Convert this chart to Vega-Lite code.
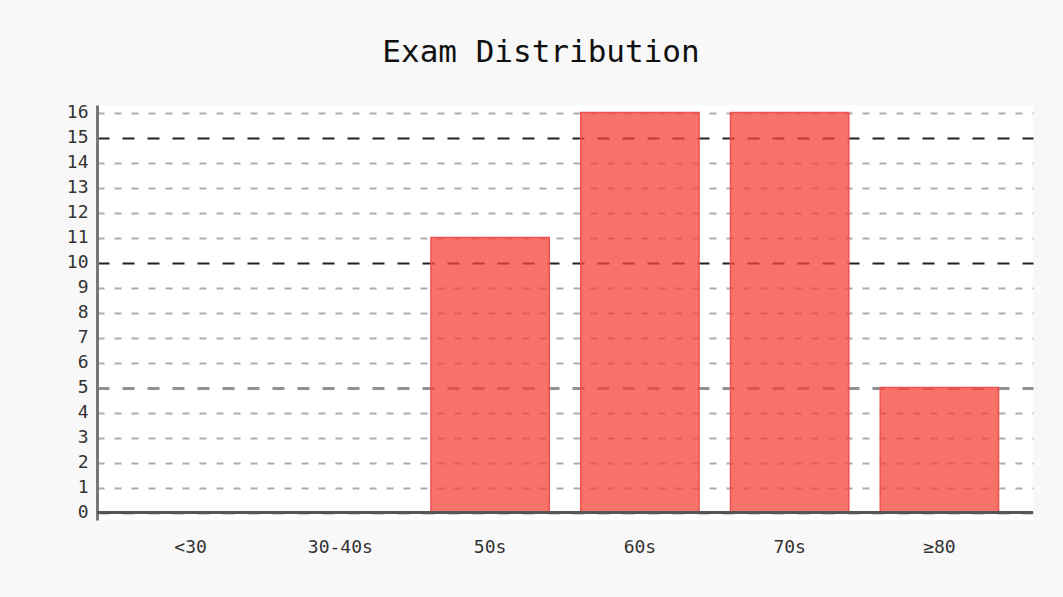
{
  "$schema": "https://vega.github.io/schema/vega-lite/v6.json",
  "width": 936,
  "height": 415,
  "autosize": "none",
  "padding": {"left": 97, "top": 105, "right": 30, "bottom": 77},
  "background": "#f8f8f8",
  "config": {"view": {"fill": "white", "stroke": null}, "font": "DejaVu Sans Mono"},
  "title": {"text": "Exam Distribution", "fontSize": 31, "fontWeight": "normal", "color": "#111", "font": "DejaVu Sans Mono", "offset": 35, "dx": -24},
  "data": {"values": [
    {"range": "<30", "count": 0},
    {"range": "30-40s", "count": 0},
    {"range": "50s", "count": 11},
    {"range": "60s", "count": 16},
    {"range": "70s", "count": 16},
    {"range": "≥80", "count": 5}
  ]},
  "layer": [
    {
      "mark": {"type": "bar", "fill": "#f44336", "fillOpacity": 0.75, "stroke": "#ef5350", "strokeWidth": 1.5},
      "encoding": {
        "x": {"field": "range", "type": "nominal", "sort": null,
          "scale": {"paddingInner": 0.21, "paddingOuter": 0.23},
          "axis": {"title": null, "domain": false, "ticks": false, "grid": false, "labelAngle": 0, "labelPadding": 18, "labelFontSize": 18, "labelColor": "#333", "labelFont": "DejaVu Sans Mono"}},
        "y": {"field": "count", "type": "quantitative",
          "scale": {"domain": [-0.3, 16.3], "nice": false},
          "axis": {"title": null, "values": [0,1,2,3,4,5,6,7,8,9,10,11,12,13,14,15,16], "tickCount": 17,
            "labelOverlap": false, "labelBound": false,
            "domainColor": "#777", "domainWidth": 3, "ticks": false, "labelPadding": 9,
            "labelFontSize": 18, "labelColor": "#333", "labelFont": "DejaVu Sans Mono",
            "grid": true,
            "gridColor": {"condition": [{"test": "datum.value === 5", "value": "#919191"}, {"test": "datum.value % 5 === 0 && datum.value > 0", "value": "#222"}], "value": "#adadad"},
            "gridDash": {"condition": {"test": "datum.value % 5 === 0", "value": [12, 13]}, "value": [7, 10]},
            "gridWidth": {"condition": {"test": "datum.value === 5", "value": 3}, "value": 2},
            "gridOpacity": 1}},
        "y2": {"datum": 0}
      }
    },
    {
      "mark": {"type": "rule", "color": "#555", "strokeWidth": 2},
      "encoding": {"y": {"datum": 0}}
    }
  ]
}
